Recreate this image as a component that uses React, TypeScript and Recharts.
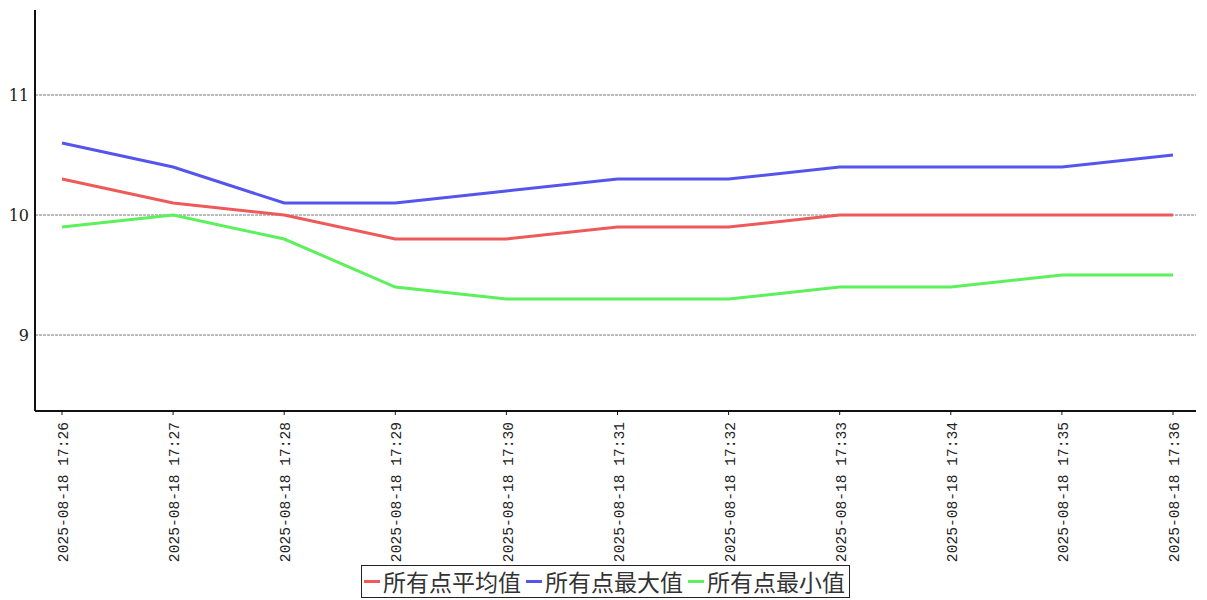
import React from "react";
import { LineChart, Line, XAxis, YAxis, CartesianGrid } from "recharts";

const categories = [
  "2025-08-18 17:26",
  "2025-08-18 17:27",
  "2025-08-18 17:28",
  "2025-08-18 17:29",
  "2025-08-18 17:30",
  "2025-08-18 17:31",
  "2025-08-18 17:32",
  "2025-08-18 17:33",
  "2025-08-18 17:34",
  "2025-08-18 17:35",
  "2025-08-18 17:36",
];
const avgValues = [10.3, 10.1, 10.0, 9.8, 9.8, 9.9, 9.9, 10.0, 10.0, 10.0, 10.0];
const maxValues = [10.6, 10.4, 10.1, 10.1, 10.2, 10.3, 10.3, 10.4, 10.4, 10.4, 10.5];
const minValues = [9.9, 10.0, 9.8, 9.4, 9.3, 9.3, 9.3, 9.4, 9.4, 9.5, 9.5];
const seriesNames = ["所有点平均值", "所有点最大值", "所有点最小值"];
const yTicks = [9, 10, 11];

const colors = ["#ee5a5a", "#5555ee", "#5cf05c"];

const data = categories.map((c, i) => ({
  t: c,
  avg: avgValues[i],
  max: maxValues[i],
  min: minValues[i],
}));

const XTick = (props: any) => {
  const { x, y, payload } = props;
  return (
    <text
      transform={`translate(${x + 1},${y + 5}) rotate(-90)`}
      textAnchor="end"
      dy="0.35em"
      fontFamily="'Liberation Mono', monospace"
      fontSize={14.6}
      fill="#222"
      style={{ whiteSpace: "pre" }}
    >
      {payload.value}
    </text>
  );
};

const YTick = (props: any) => {
  const { x, y, payload } = props;
  return (
    <text
      x={x + 2}
      y={y}
      textAnchor="end"
      dy="0.35em"
      fontFamily="'DejaVu Serif', serif"
      fontSize={16}
      fill="#222"
    >
      {payload.value}
    </text>
  );
};

const LegendBox = () => (
  <div
    style={{
      position: "absolute",
      left: 361,
      top: 565,
      height: 31,
      display: "flex",
      alignItems: "center",
      border: "1px solid #222",
      padding: "0 4px 0 2px",
      background: "#fff",
      fontFamily: "'Noto Sans CJK SC', sans-serif",
      fontSize: 23,
      lineHeight: "31px",
      color: "#333",
      whiteSpace: "nowrap",
    }}
  >
    {seriesNames.map((n, i) => (
      <span key={n} style={{ display: "inline-flex", alignItems: "center" }}>
        <span
          style={{
            display: "inline-block",
            width: 16,
            height: 3,
            background: colors[i],
            marginRight: 3,
            marginLeft: i === 0 ? 0 : 5,
          }}
        />
        <span>{n}</span>
      </span>
    ))}
  </div>
);

export default function App() {
  return (
    <div style={{ position: "absolute", left: 0, top: 0, width: 1207, height: 600 }}>
      <LineChart
        width={1207}
        height={600}
        data={data}
        margin={{ top: 10, right: 11, left: 0, bottom: 0 }}
      >
        <CartesianGrid
          vertical={false}
          horizontalValues={yTicks}
          stroke="#777"
          strokeDasharray="3 1"
          strokeWidth={1}
        />
        <XAxis
          dataKey="t"
          interval={0}
          height={189}
          padding={{ left: 27, right: 23 }}
          axisLine={{ stroke: "#111", strokeWidth: 2 }}
          tickLine={{ stroke: "#111" }}
          tickSize={4}
          tick={<XTick />}
        />
        <YAxis
          width={35}
          domain={[8.367, 11.708]}
          ticks={yTicks}
          allowDataOverflow
          axisLine={{ stroke: "#111", strokeWidth: 2 }}
          tickLine={false}
          tick={<YTick />}
        />
        <Line type="linear" dataKey="avg" name={seriesNames[0]} stroke={colors[0]} strokeWidth={3} dot={false} isAnimationActive={false} />
        <Line type="linear" dataKey="max" name={seriesNames[1]} stroke={colors[1]} strokeWidth={3} dot={false} isAnimationActive={false} />
        <Line type="linear" dataKey="min" name={seriesNames[2]} stroke={colors[2]} strokeWidth={3} dot={false} isAnimationActive={false} />
      </LineChart>
      <LegendBox />
    </div>
  );
}
